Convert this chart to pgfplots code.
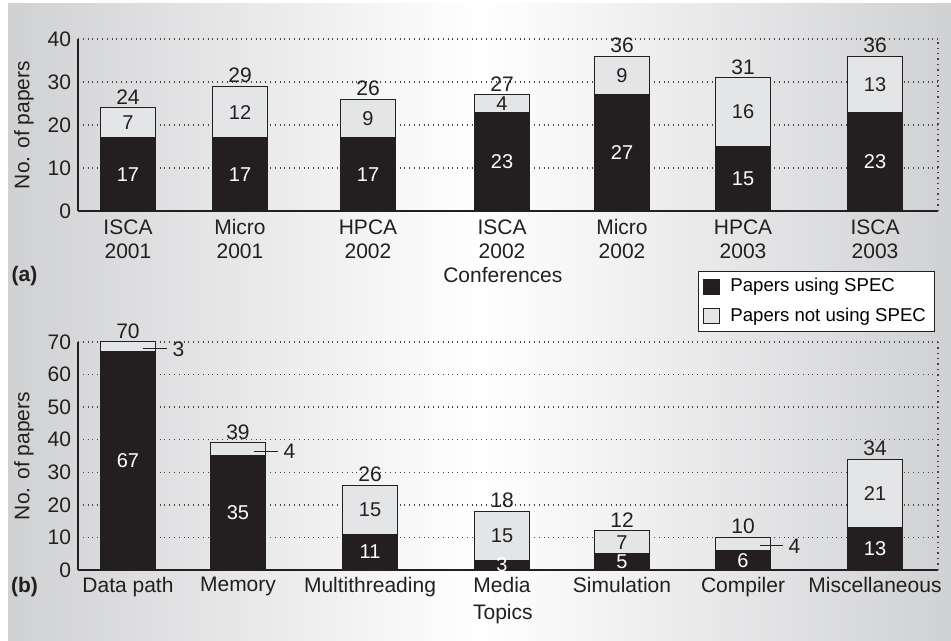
\documentclass[border=0pt]{standalone}
\usepackage{pgfplots}
\pgfplotsset{compat=1.18}
\usepackage{pgfplotstable}
\usepackage{fontspec}
\setmainfont{Liberation Sans}
\definecolor{barblack}{RGB}{35,31,32}
\definecolor{barlight}{RGB}{228,229,230}
\definecolor{bgedge}{RGB}{208,209,211}
\definecolor{gridc}{RGB}{70,70,70}

\pgfplotstableread{
x black light total
128 17 7 24
240 17 12 29
368 17 9 26
502 23 4 27
622 27 9 36
743 15 16 31
875 23 13 36
}\conf

\pgfplotstableread{
x black light total
128 67 3 70
238 35 4 39
370 11 15 26
502 3 15 18
622 5 7 12
743 6 4 10
875 13 21 34
}\topics

\newcommand{\mainfs}{\fontsize{10.5}{12}\selectfont}
\newcommand{\valfs}{\fontsize{10}{12}\selectfont}

\pgfplotsset{
  mystyle/.style={
    scale only axis, width=430pt,
    xmin=78, xmax=938, ymin=0,
    axis x line*=bottom, axis y line*=left,
    x axis line style={-, line width=1pt, color=barblack},
    y axis line style={-, line width=0.6pt, color=barblack},
    major tick length=0pt,
    ymajorgrids, grid style={dotted, line width=0.7pt, color=gridc},
    tick label style={font=\mainfs, text=barblack},
    label style={font=\mainfs, text=barblack},
    /pgf/number format/assume math mode=true,
    clip=false,
  },
  lightbar/.style={ybar, bar width=55, bar shift=0pt, fill=barlight, draw=barblack, line width=0.5pt,
    legend image code/.code={\draw[fill=barlight, draw=barblack, line width=0.5pt] (0pt,-3.7pt) rectangle (8pt,3.7pt);}},
  blackbar/.style={ybar, bar width=55, bar shift=0pt, fill=barblack, draw=barblack, line width=0.5pt,
    legend image code/.code={\draw[fill=barblack, draw=barblack, line width=0.5pt] (0pt,-3.7pt) rectangle (8pt,3.7pt);}},
  lab/.style={forget plot, draw=none, mark=none, nodes near coords, point meta=explicit,
    nodes near coords style={anchor=center, font=\valfs, text=#1}},
  totlab/.style={forget plot, draw=none, mark=none, nodes near coords, point meta=explicit,
    nodes near coords style={anchor=south, inner sep=1.5pt, font=\mainfs, text=barblack}},
}

\begin{document}
\begin{tikzpicture}
\useasboundingbox (0,0) rectangle (475.5pt,320.5pt);
\fill[white] (0,0) rectangle (475.5pt,320.5pt);
\shade[left color=bgedge, right color=bgedge, middle color=white] (4pt,0) rectangle (475.5pt,318.5pt);

\begin{axis}[mystyle,
  at={(39pt,215pt)}, anchor=south west,
  height=86pt, ymax=40, ytick={0,10,20,30,40},
  xtick={128,240,368,502,622,743,875},
  xticklabels={{\strut ISCA\\\strut 2001},{\strut Micro\\\strut 2001},{\strut HPCA\\\strut 2002},{\strut ISCA\\\strut 2002},{\strut Micro\\\strut 2002},{\strut HPCA\\\strut 2003},{\strut ISCA\\\strut 2003}},
  xticklabel style={align=center, anchor=north, inner sep=0pt, yshift=-3pt},
  ylabel={No. of papers},
  ylabel style={at={(axis description cs:-0.0628,0.5)}, anchor=center},
  xlabel={Conferences},
  xlabel style={at={(axis description cs:0.494,-0.372)}, anchor=center},
  reverse legend,
  legend style={at={(axis description cs:0.7209,-0.349)}, anchor=north west,
    draw=barblack, fill=white, line width=0.5pt, font=\fontsize{9.3}{11}\selectfont,
    inner xsep=2.5pt, inner ysep=1.5pt, row sep=2.5pt, cells={anchor=west},
    /tikz/every odd column/.append style={column sep=3pt}},
]
\addplot[lightbar] table[x=x, y=total] {\conf};
\addlegendentry{Papers not using SPEC}
\addplot[blackbar] table[x=x, y=black] {\conf};
\addlegendentry{Papers using SPEC}
\addplot[lab=white] table[x=x, y expr=\thisrow{black}/2, meta=black] {\conf};
\addplot[lab=barblack] table[x=x, y expr=\thisrow{black}+\thisrow{light}/2, meta=light] {\conf};
\addplot[totlab] table[x=x, y=total, meta=total] {\conf};
\draw[dotted, line width=0.7pt, color=gridc] (rel axis cs:1,0) -- (rel axis cs:1,1);
\end{axis}

\begin{axis}[mystyle,
  at={(39pt,35.5pt)}, anchor=south west,
  height=114pt, ymax=70, ytick={0,10,20,30,40,50,60,70},
  xtick={128,238,370,502,622,743,875},
  xticklabels={Data path,Memory,Multithreading,Media,Simulation,Compiler,Miscellaneous},
  ylabel={No. of papers},
  ylabel style={at={(axis description cs:-0.0628,0.5)}, anchor=center},
  xlabel={Topics},
  xlabel style={at={(axis description cs:0.494,-0.193)}, anchor=center},
]
\addplot[lightbar] table[x=x, y=total] {\topics};
\addplot[blackbar] table[x=x, y=black] {\topics};
\addplot[lab=white] table[x=x, y expr=\thisrow{black}/2, meta=black] {\topics};
\addplot[lab=barblack, skip coords between index={0}{2}, skip coords between index={5}{6}] table[x=x, y expr=\thisrow{black}+\thisrow{light}/2, meta=light] {\topics};
\addplot[totlab] table[x=x, y=total, meta=total] {\topics};
\draw[barblack, line width=0.6pt] (axis cs:143,67.9) -- (axis cs:167,67.9) node[right, inner sep=2.5pt, font=\mainfs] {3};
\draw[barblack, line width=0.6pt] (axis cs:254,36.5) -- (axis cs:278,36.5) node[right, inner sep=2.5pt, font=\mainfs] {4};
\draw[barblack, line width=0.6pt] (axis cs:760,7.4) -- (axis cs:783,7.4) node[right, inner sep=2.5pt, font=\mainfs] {4};
\draw[dotted, line width=0.7pt, color=gridc] (rel axis cs:1,0) -- (rel axis cs:1,1);
\end{axis}

\node[font=\bfseries\mainfs, text=barblack] at (12.25pt,182.5pt) {(a)};
\node[font=\bfseries\mainfs, text=barblack] at (12.25pt,27pt) {(b)};
\end{tikzpicture}
\end{document}
